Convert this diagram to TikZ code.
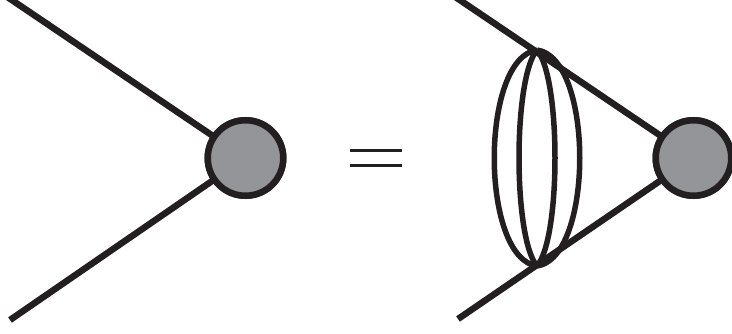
\documentclass[tikz,border=0pt]{standalone}
\definecolor{ink}{HTML}{231F20}
\definecolor{blobgray}{HTML}{939598}
\begin{document}
\begin{tikzpicture}[x=1pt,y=-1pt,
  blob/.style={circle,draw=ink,fill=blobgray,line width=6.5pt,minimum size=75.5pt,inner sep=0pt},
  ln/.style={draw=ink,line width=6.5pt},
  loopline/.style={draw=ink,line width=5.5pt},
  eqline/.style={draw=ink,line width=3pt}]
\useasboundingbox (0,0) rectangle (732,334);
\coordinate (a1) at (-3,-10);
\coordinate (a2) at (10,320);
\coordinate (b1) at (445,-10);
\coordinate (b2) at (458,319);
\coordinate (t) at (537,50);
\coordinate (m) at (537,266);
\node[blob] (L) at (245.5,158) {};
\node[blob] (R) at (693.5,158) {};
\draw[ln] (a1) -- (L.center);
\draw[ln] (a2) -- (L.center);
\draw[ln] (b1) -- (R.center);
\draw[ln] (b2) -- (R.center);
\node[blob] (L2) at (L.center) {};
\node[blob] (R2) at (R.center) {};
\coordinate (e1) at (350,151);
\coordinate (e2) at (402,151);
\coordinate (e3) at (350,165.5);
\coordinate (e4) at (402,165.5);
\draw[eqline] (e1) -- (e2);
\draw[eqline] (e3) -- (e4);
\draw[loopline] (t) .. controls (480,58) and (480,258) .. (m);
\draw[loopline] (t) .. controls (513,78) and (513,238) .. (m);
\draw[loopline] (t) .. controls (561,78) and (561,238) .. (m);
\draw[loopline] (t) .. controls (594,58) and (594,258) .. (m);
\end{tikzpicture}
\end{document}
